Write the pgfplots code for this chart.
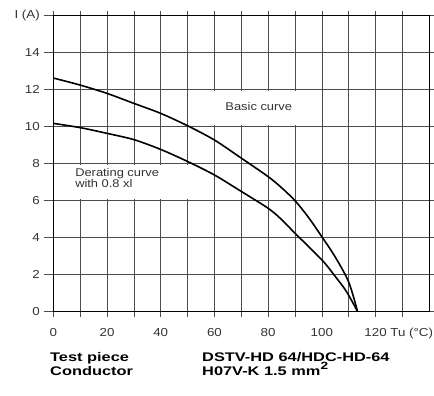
\documentclass[border=0pt]{standalone}
\usepackage{fontspec}
\setmainfont{Liberation Sans}[FakeStretch=1.15]
\newfontfamily\boldsans{Liberation Sans}[FakeStretch=1.31]
\usepackage{pgfplots}
\pgfplotsset{compat=1.18}
\definecolor{txt}{HTML}{333333}
\definecolor{gridc}{HTML}{4D4D4D}
\begin{document}
\begin{tikzpicture}
\begin{axis}[
  scale only axis, width=376pt, height=296pt,
  at={(53.3pt,84.3pt)}, anchor=south west,
  xmin=0, xmax=140, ymin=0, ymax=16,
  xtick={0,20,...,120},
  xticklabels={0,20,40,60,80,100,{\phantom{Tu (°C) }120 Tu (°C)}},
  minor xtick={10,30,...,130},
  ytick={0,2,...,16},
  yticklabels={0,2,4,6,8,10,12,14,{I (A)}},
  grid=both,
  major grid style={gridc, line width=0.7pt},
  minor grid style={gridc, line width=0.7pt},
  tick align=outside,
  major tick length=5pt, minor tick length=5pt,
  tick style={gridc, line width=0.7pt},
  axis line style={black, line width=0.8pt},
  tick label style={font=\fontsize{11.6}{13}\selectfont, text=txt},
  xticklabel style={anchor=base, yshift=-20pt},
  yticklabel style={xshift=-5pt},
  /pgf/number format/assume math mode=true,
  clip=false,
]
\fill[white] (axis cs:50.4,10.08) rectangle (axis cs:99.6,11.92);
\fill[white] (axis cs:0.3,6.08) rectangle (axis cs:56,7.92);
\addplot[black, line width=1.6pt, smooth] coordinates {
(0,12.63) (10,12.25) (20,11.8) (30,11.26) (40,10.72) (50,10.05) (60,9.28) (70,8.3) (80,7.3) (85,6.7) (90,6.0) (95,5.1) (100,4.05) (105,2.95) (110,1.6) (113.3,0)
};
\addplot[black, line width=1.6pt, smooth] coordinates {
(0,10.18) (10,9.95) (20,9.64) (30,9.3) (40,8.77) (50,8.12) (60,7.39) (70,6.5) (80,5.59) (85,4.98) (90,4.24) (100,2.8) (105,1.9) (109.2,1.08) (113.3,0)
};
\node[text=txt, font=\fontsize{11.2}{13}\selectfont] at (axis cs:76.5,11.1) {Basic curve};
\node[text=txt, anchor=west, align=left, inner sep=0, font=\fontsize{11.2}{11}\selectfont] at (axis cs:8.1,7.2) {Derating curve\\with 0.8 xl};
\end{axis}
\foreach \k in {0,...,8} \draw[gridc, line width=0.7pt] (43.5pt,{84.3pt+37pt*\k}) -- (53.3pt,{84.3pt+37pt*\k});
\begin{scope}[every node/.style={anchor=base west, inner sep=0, font=\boldsans\bfseries\fontsize{12.5}{14}\selectfont}]
\node at (50pt,34pt) {Test piece};
\node at (50pt,20pt) {Conductor};
\node at (202pt,34pt) {DSTV-HD 64/HDC-HD-64};
\node at (202pt,20pt) {H07V-K 1.5 mm\raisebox{0.5em}{\fontsize{10.5}{10}\selectfont 2}};
\end{scope}
\pgfresetboundingbox
\path (0pt,0pt) rectangle (434pt,396pt);
\end{tikzpicture}
\end{document}
